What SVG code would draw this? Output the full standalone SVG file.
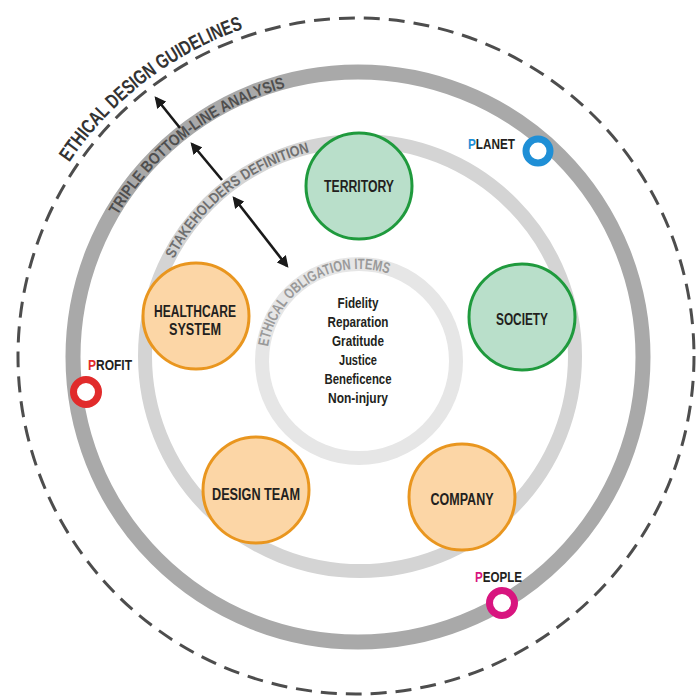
<svg xmlns="http://www.w3.org/2000/svg" xmlns:xlink="http://www.w3.org/1999/xlink" width="697" height="700" viewBox="0 0 697 700">
<defs>
<style>
.t{font-family:"Liberation Sans",Arial,sans-serif;font-weight:bold;fill:#231f20;text-anchor:middle}
.arc{font-family:"Liberation Sans",Arial,sans-serif;font-weight:bold}
.green{fill:#b9dfca;stroke:#1f9a3d;stroke-width:3}
.orange{fill:#fcd6a6;stroke:#e9961f;stroke-width:3}
.conn{stroke:#1a1a1a;stroke-width:2.6;fill:none}
.lab{font-family:"Liberation Sans",Arial,sans-serif;font-weight:bold;font-size:14px;fill:#231f20}
</style>
<marker id="ah" viewBox="0 0 10 10" refX="8" refY="5" markerWidth="4.5" markerHeight="4.5" orient="auto-start-reverse">
<path d="M0,0 L10,5 L0,10 z" fill="#1a1a1a"/>
</marker>
<path id="p1" d="M69.2,162.5 A346,346 0 0 1 295.9,15.3"/>
<path id="p2" d="M117.6,215.4 A279,279 0 0 1 333.7,79.1"/>
<path id="p3" d="M173.7,259 A210,210 0 0 1 341.7,146.8"/>
<path id="p4" d="M268.1,346.6 A92,92 0 0 1 405,281.3"/>
</defs>
<rect width="697" height="700" fill="#ffffff"/>

<g id="rings">
<circle cx="356" cy="356" r="338" fill="none" stroke="#4d4d4d" stroke-width="3" stroke-dasharray="16 9"/>
<circle cx="358" cy="357" r="285" fill="none" stroke="#a9a9a9" stroke-width="15"/>
<circle cx="360" cy="356" r="215" fill="none" stroke="#d4d4d4" stroke-width="14"/>
<circle cx="359" cy="361" r="97" fill="none" stroke="#e6e6e6" stroke-width="14"/>
</g>

<g id="ring-labels">
<text class="arc" font-size="20" fill="#333333"><textPath xlink:href="#p1" textLength="223" lengthAdjust="spacingAndGlyphs">ETHICAL DESIGN GUIDELINES</textPath></text>
<text class="arc" font-size="16" fill="#4f4f4f"><textPath xlink:href="#p2" textLength="216" lengthAdjust="spacingAndGlyphs">TRIPLE BOTTOM-LINE ANALYSIS</textPath></text>
<text class="arc" font-size="15" fill="#707070"><textPath xlink:href="#p3" textLength="178" lengthAdjust="spacingAndGlyphs">STAKEHOLDERS DEFINITION</textPath></text>
<text class="arc" font-size="15" fill="#9a9a9a"><textPath xlink:href="#p4" textLength="160" lengthAdjust="spacingAndGlyphs">ETHICAL OBLIGATION ITEMS</textPath></text>
</g>

<g id="connectors">
<line class="conn" x1="180" y1="128" x2="156" y2="98" marker-end="url(#ah)"/>
<line class="conn" x1="222" y1="180" x2="192" y2="144" marker-end="url(#ah)"/>
<line class="conn" x1="234" y1="198" x2="287" y2="266" marker-start="url(#ah)" marker-end="url(#ah)"/>
</g>

<g id="territory">
<circle class="green" cx="359" cy="186" r="53"/>
<text class="t" x="359" y="192" font-size="16" textLength="70" lengthAdjust="spacingAndGlyphs">TERRITORY</text>
</g>
<g id="society">
<circle class="green" cx="522" cy="317" r="53"/>
<text class="t" x="522" y="325" font-size="16" textLength="52" lengthAdjust="spacingAndGlyphs">SOCIETY</text>
</g>
<g id="healthcare-system">
<circle class="orange" cx="196" cy="316" r="53"/>
<text class="t" font-size="16"><tspan x="195" y="317" textLength="82" lengthAdjust="spacingAndGlyphs">HEALTHCARE</tspan><tspan x="195" y="335" textLength="52" lengthAdjust="spacingAndGlyphs">SYSTEM</tspan></text>
</g>
<g id="design-team">
<circle class="orange" cx="256" cy="490" r="53"/>
<text class="t" x="256" y="500" font-size="16" textLength="88" lengthAdjust="spacingAndGlyphs">DESIGN TEAM</text>
</g>
<g id="company">
<circle class="orange" cx="462" cy="497" r="53"/>
<text class="t" x="462" y="505" font-size="16" textLength="63" lengthAdjust="spacingAndGlyphs">COMPANY</text>
</g>

<g id="ethical-items">
<text class="t" font-size="14"><tspan x="358" y="308" textLength="41" lengthAdjust="spacingAndGlyphs">Fidelity</tspan><tspan x="358" y="327" textLength="61" lengthAdjust="spacingAndGlyphs">Reparation</tspan><tspan x="358" y="346" textLength="52" lengthAdjust="spacingAndGlyphs">Gratitude</tspan><tspan x="358" y="365" textLength="38" lengthAdjust="spacingAndGlyphs">Justice</tspan><tspan x="358" y="384" textLength="67" lengthAdjust="spacingAndGlyphs">Beneficence</tspan><tspan x="358" y="403" textLength="60" lengthAdjust="spacingAndGlyphs">Non-injury</tspan></text>
</g>

<g id="planet">
<circle cx="538" cy="151" r="12" fill="#ffffff" stroke="#1f8fd6" stroke-width="7"/>
<text class="lab" x="468" y="149" textLength="47" lengthAdjust="spacingAndGlyphs"><tspan fill="#1f8fd6">P</tspan>LANET</text>
</g>
<g id="profit">
<circle cx="86" cy="392" r="12.5" fill="#ffffff" stroke="#e12b2b" stroke-width="7"/>
<text class="lab" x="88" y="370" textLength="44" lengthAdjust="spacingAndGlyphs"><tspan fill="#e12b2b">P</tspan>ROFIT</text>
</g>
<g id="people">
<circle cx="502" cy="603" r="12.5" fill="#ffffff" stroke="#d8157f" stroke-width="7"/>
<text class="lab" x="475" y="582" textLength="47" lengthAdjust="spacingAndGlyphs"><tspan fill="#d8157f">P</tspan>EOPLE</text>
</g>
</svg>
